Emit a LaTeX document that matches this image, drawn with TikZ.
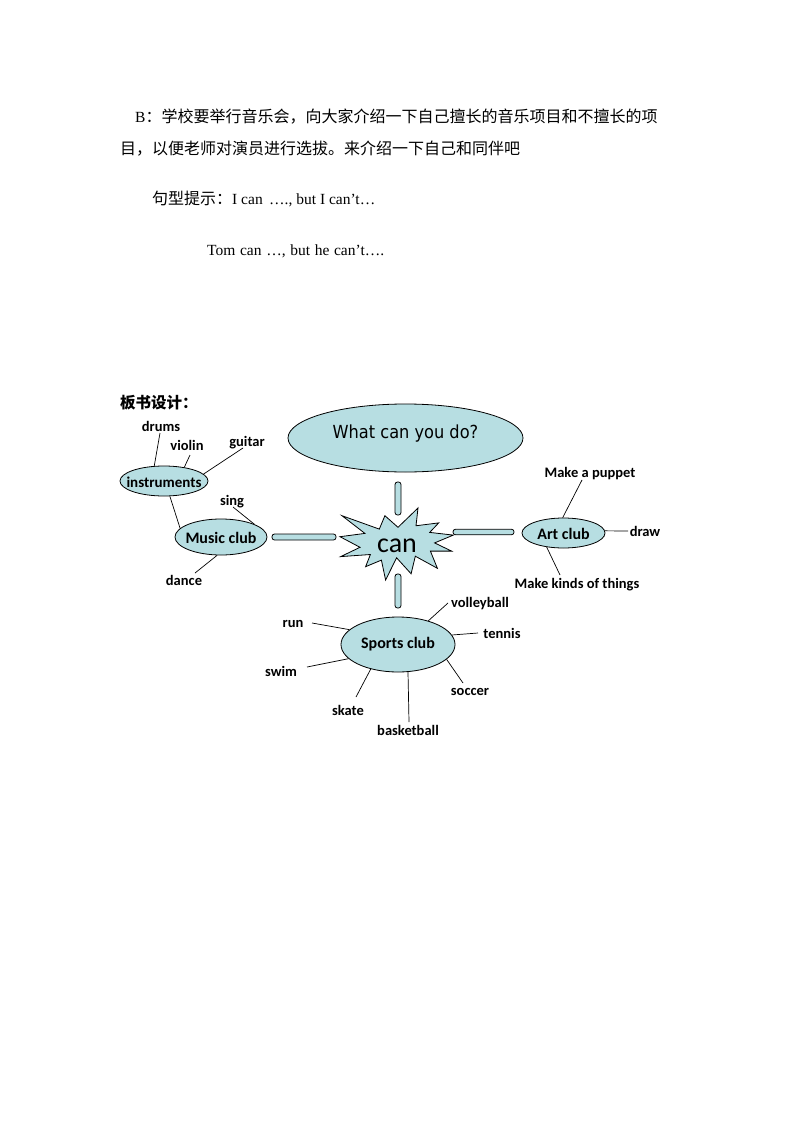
\documentclass[tikz,border=0pt]{standalone}
\usepackage{fontspec}
\setmainfont{Liberation Serif}
\newfontfamily\cjk{Noto Sans CJK SC}
\newfontfamily\carl{Carlito}
\newfontfamily\dvs{DejaVu Sans Condensed}
\usetikzlibrary{shapes.geometric}
\definecolor{lb}{RGB}{183,222,226}
\begin{document}
\begin{tikzpicture}[x=1pt,y=-1pt,
  txt/.style={inner sep=0pt, anchor=base west},
  club/.style={ellipse, draw, fill=lb, line width=0.8pt, inner sep=0pt},
  clubtxt/.style={inner sep=0pt, font=\carl\bfseries\fontsize{16}{19}\selectfont},
  lab/.style={inner sep=0pt, yshift=-3pt, font=\carl\bfseries\fontsize{14.5}{17}\selectfont, text height=1.5ex, text depth=0.25ex},
  bar/.style={draw, fill=lb, line width=0.8pt, rounded corners=2.5pt, inner sep=0pt},
  conn/.style={line width=0.7pt}]
\useasboundingbox (0,0) rectangle (794,1123);
\fill[white] (0,0) rectangle (794,1123);

% ---------- text at top ----------
\node[txt] (l1) at (135,123) {{\fontsize{15.5}{18}\selectfont B}{\cjk\fontsize{16}{19}\selectfont ：学校要举行音乐会，向大家介绍一下自己擅长的音乐项目和不擅长的项}};
\node[txt] (l2) at (120,155) {\cjk\fontsize{16}{19}\selectfont 目，以便老师对演员进行选拔。来介绍一下自己和同伴吧};
\node[txt] (l3) at (152,205) {{\cjk\fontsize{16}{19}\selectfont 句型提示：}{\fontsize{15.5}{18}\selectfont I can \,…., but I can’t…}};
\node[txt] (l4) at (207,255) {\fontsize{15.5}{18}\selectfont Tom \hspace{0.8pt}can \hspace{0.8pt}…, \hspace{0.8pt}but \hspace{0.8pt}he \hspace{0.8pt}can’t….};
\node[txt] (l5) at (120,408) {\cjk\bfseries\fontsize{15.5}{18}\selectfont 板书设计：};

% ---------- central question ----------
\node[club, minimum width=235, minimum height=68, font=\dvs\fontsize{18}{21}\selectfont, text height=13pt, text depth=13pt] (q) at (405.5,438) {What can you do?};

% ---------- star "can" ----------
\draw[fill=lb, line width=0.8pt] (398.0,527.3) -- (418.0,508.0) -- (416.0,525.75) -- (438.7,522.9) -- (429.7,532.4) -- (453.3,535.1) -- (434.6,542.9) -- (451.6,551.1) -- (430.4,551.1) -- (437.4,568.3) -- (415.3,556.2) -- (411.1,573.8) -- (396.6,557.8) -- (385.6,580.0) -- (381.4,560.1) -- (365.6,566.7) -- (370.4,554.5) -- (340.7,556.6) -- (360.0,547.3) -- (340,536.7) -- (364.9,533.4) -- (342.0,515.7) -- (379.3,529.1) -- (384.9,515.7) -- cycle;
\node[inner sep=0pt, font=\carl\fontsize{28}{32}\selectfont] (can) at (397,546) {can};

% ---------- bars ----------
\node[bar, minimum width=6, minimum height=33] (vbarT) at (398,498.5) {};
\node[bar, minimum width=6, minimum height=34] (vbarB) at (398,591) {};
\node[bar, minimum width=64, minimum height=6] (hbarL) at (304,537) {};
\node[bar, minimum width=61, minimum height=5.5] (hbarR) at (483.5,532) {};

% ---------- instruments ----------
\node[club, minimum width=88, minimum height=30] (instr) at (164,481) {};
\node[clubtxt, font=\carl\bfseries\fontsize{15}{18}\selectfont] (instrT) at (164,482) {instruments};
\node[lab] (drums) at (161,426) {drums};
\node[lab] (violin) at (187,445) {violin};
\node[lab] (guitar) at (247,441) {guitar};
\coordinate (drumsE) at (160,433);
\coordinate (violinE) at (190,455);
\coordinate (guitarE) at (243,448);
\draw[conn] (instr.123) -- (drumsE);
\draw[conn] (instr.34) -- (violinE);
\draw[conn] (instr.10) -- (guitarE);

% ---------- Music club ----------
\node[club, minimum width=92, minimum height=36] (music) at (221,537) {};
\node[clubtxt] (musicT) at (221,538) {Music club};
\draw[conn] (instr.-69) -- (music.168);
\node[lab] (sing) at (232,500) {sing};
\coordinate (singE) at (233,507);
\draw[conn] (music.21) -- (singE);
\node[lab] (dance) at (184,580) {dance};
\coordinate (danceE) at (195,573);
\draw[conn] (music.-102) -- (danceE);

% ---------- Art club ----------
\node[club, minimum width=83, minimum height=30] (art) at (563.5,533) {};
\node[clubtxt] (artT) at (563.5,534) {Art club};
\node[lab] (puppet) at (590,472) {Make a puppet};
\coordinate (puppetE) at (582,480);
\draw[conn] (art.93) -- (puppetE);
\node[lab] (drawL) at (645,531) {draw};
\coordinate (drawE) at (628,531);
\draw[conn] (art.3) -- (drawE);
\node[lab] (kinds) at (577,583) {Make kinds of things};
\coordinate (kindsE) at (560,575);
\draw[conn] (art.-140) -- (kindsE);

% ---------- Sports club ----------
\node[club, minimum width=114, minimum height=55] (sports) at (398,644.5) {};
\node[clubtxt] (sportsT) at (398,644) {Sports club};
\node[lab] (volley) at (480,602) {volleyball};
\node[lab] (tennis) at (502,633) {tennis};
\node[lab] (soccer) at (470,690) {soccer};
\node[lab] (basket) at (408,730) {basketball};
\node[lab] (skate) at (348,710) {skate};
\node[lab] (swim) at (281,671) {swim};
\node[lab] (run) at (293,622) {run};
\coordinate (volleyE) at (448,603);
\coordinate (tennisE) at (478,633);
\coordinate (soccerE) at (463,683);
\coordinate (basketE) at (409,722);
\coordinate (skateE) at (356,697);
\coordinate (swimE) at (307,667);
\coordinate (runE) at (312,623);
\draw[conn] (sports.38) -- (volleyE);
\draw[conn] (sports.10) -- (tennisE);
\draw[conn] (sports.-17) -- (soccerE);
\draw[conn] (sports.-70) -- (basketE);
\draw[conn] (sports.222) -- (skateE);
\draw[conn] (sports.196) -- (swimE);
\draw[conn] (sports.163) -- (runE);
\end{tikzpicture}
\end{document}
